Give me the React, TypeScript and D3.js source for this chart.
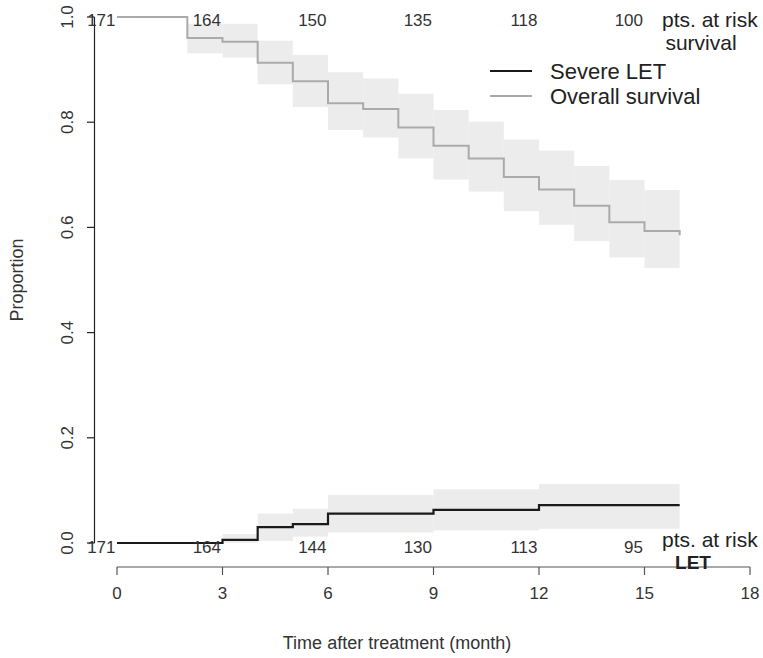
import React from "react";
import * as d3 from "d3";

// Overall survival (Kaplan-Meier) step data
const survTimes = [0, 2, 3, 4, 5, 6, 7, 8, 9, 10, 11, 12, 13, 14, 15, 16];
const survValues = [1.0, 0.96, 0.953, 0.913, 0.878, 0.836, 0.825, 0.79, 0.755, 0.731, 0.696, 0.672, 0.641, 0.61, 0.593, 0.585];
const survUpper = [1.0, 0.987, 0.987, 0.955, 0.928, 0.895, 0.883, 0.854, 0.823, 0.801, 0.767, 0.746, 0.717, 0.69, 0.671];
const survLower = [1.0, 0.931, 0.923, 0.872, 0.829, 0.785, 0.771, 0.731, 0.691, 0.668, 0.631, 0.605, 0.574, 0.543, 0.523];

// Severe LET cumulative incidence step data
const letTimes = [0, 3, 4, 5, 6, 9, 12, 16];
const letValues = [0, 0.006, 0.03, 0.036, 0.056, 0.063, 0.072, 0.072];
const letUpper = [0, 0.017, 0.056, 0.065, 0.091, 0.102, 0.112];
const letLower = [0, 0, 0.004, 0.012, 0.02, 0.024, 0.027];

// Numbers at risk
const riskMonths = [0, 3, 6, 9, 12, 15];
const survAtRisk = [171, 164, 150, 135, 118, 100];
const letAtRisk = [171, 164, 144, 130, 113, 95];

const xTicks = [0, 3, 6, 9, 12, 15, 18];
const yTicks = [0, 0.2, 0.4, 0.6, 0.8, 1.0];

const FONT = "'Liberation Sans', Arial, Helvetica, sans-serif";

export default function App() {
  const x = d3.scaleLinear().domain([0, 18]).range([117, 750]);
  const y = d3.scaleLinear().domain([0, 1]).range([543, 17]);

  const stepLine = d3
    .line<[number, number]>()
    .x((d) => x(d[0]))
    .y((d) => y(d[1]))
    .curve(d3.curveStepAfter);

  const survPts: [number, number][] = survTimes.map((t, i) => [t, survValues[i]]);
  // add tiny end tick (drop at last time)
  const survPath = stepLine(survPts.slice(0, survPts.length - 1).concat([[16, survValues[survValues.length - 2]], [16, survValues[survValues.length - 1]]]));
  const letPts: [number, number][] = letTimes.map((t, i) => [t, letValues[i]]);
  const letPath = stepLine(letPts);

  const survBands = survUpper.map((u, i) => ({
    x0: survTimes[i],
    x1: survTimes[i + 1],
    u,
    l: survLower[i],
  }));
  const letBands = letUpper.map((u, i) => ({
    x0: letTimes[i],
    x1: letTimes[i + 1],
    u,
    l: letLower[i],
  }));

  return (
    <svg
      width={763}
      height={658}
      style={{ position: "fixed", left: 0, top: 0, background: "#fff" }}
      fontFamily={FONT}
    >
      <rect x={0} y={0} width={763} height={658} fill="#fff" />
      {/* CI bands */}
      {survBands.map((b, i) => (
        <rect
          key={"sb" + i}
          x={x(b.x0)}
          width={x(b.x1) - x(b.x0)}
          y={y(b.u)}
          height={y(b.l) - y(b.u)}
          fill="#ececec"
        />
      ))}
      {letBands.map((b, i) => (
        <rect
          key={"lb" + i}
          x={x(b.x0)}
          width={x(b.x1) - x(b.x0)}
          y={y(b.u)}
          height={Math.max(0, y(b.l) - y(b.u))}
          fill="#ececec"
        />
      ))}

      {/* curves */}
      <path d={survPath || ""} fill="none" stroke="#aaaaaa" strokeWidth={2} />
      <path d={letPath || ""} fill="none" stroke="#1a1a1a" strokeWidth={2.2} />

      {/* y axis */}
      <line x1={94.5} x2={94.5} y1={y(1)} y2={y(0)} stroke="#222" strokeWidth={1.2} />
      {yTicks.map((t) => (
        <g key={"yt" + t}>
          <line x1={87} x2={94.5} y1={y(t)} y2={y(t)} stroke="#222" strokeWidth={1.2} />
          <text
            transform={`translate(${73},${y(t)}) rotate(-90)`}
            textAnchor="middle"
            fontSize={17}
            fill="#333"
          >
            {t.toFixed(1)}
          </text>
        </g>
      ))}
      <text
        transform={`translate(${23},${280}) rotate(-90)`}
        textAnchor="middle"
        fontSize={18}
        fill="#333"
      >
        Proportion
      </text>

      {/* x axis */}
      <line x1={x(0)} x2={x(18)} y1={567} y2={567} stroke="#555" strokeWidth={1.2} />
      {xTicks.map((t) => (
        <g key={"xt" + t}>
          <line x1={x(t)} x2={x(t)} y1={567} y2={575} stroke="#555" strokeWidth={1.2} />
          <text x={x(t)} y={599} textAnchor="middle" fontSize={17} fill="#333">
            {t}
          </text>
        </g>
      ))}
      <text x={397} y={649} textAnchor="middle" fontSize={18} fill="#333">
        Time after treatment (month)
      </text>

      {/* numbers at risk */}
      {riskMonths.map((m, i) => (
        <text key={"sr" + i} x={x(m) - 1.5} y={26} textAnchor="end" fontSize={17} fill="#333">
          {survAtRisk[i]}
        </text>
      ))}
      {riskMonths.map((m, i) => (
        <text key={"lr" + i} x={x(m) - 1.5} y={553} textAnchor="end" fontSize={17} fill="#333">
          {letAtRisk[i]}
        </text>
      ))}
      <text x={662} y={27} fontSize={21} fill="#222">
        pts. at risk
      </text>
      <text x={701} y={50} textAnchor="middle" fontSize={21} fill="#222">
        survival
      </text>
      <text x={662} y={547} fontSize={21} fill="#222">
        pts. at risk
      </text>
      <text x={693} y={569} textAnchor="middle" fontSize={19} fontWeight="bold" fill="#222">
        LET
      </text>

      {/* legend */}
      <line x1={490} x2={532} y1={71} y2={71} stroke="#1a1a1a" strokeWidth={2.2} />
      <text x={550} y={79} fontSize={22} fill="#222">
        Severe LET
      </text>
      <line x1={490} x2={532} y1={96} y2={96} stroke="#aaaaaa" strokeWidth={2} />
      <text x={550} y={104} fontSize={22} fill="#222">
        Overall survival
      </text>
    </svg>
  );
}
